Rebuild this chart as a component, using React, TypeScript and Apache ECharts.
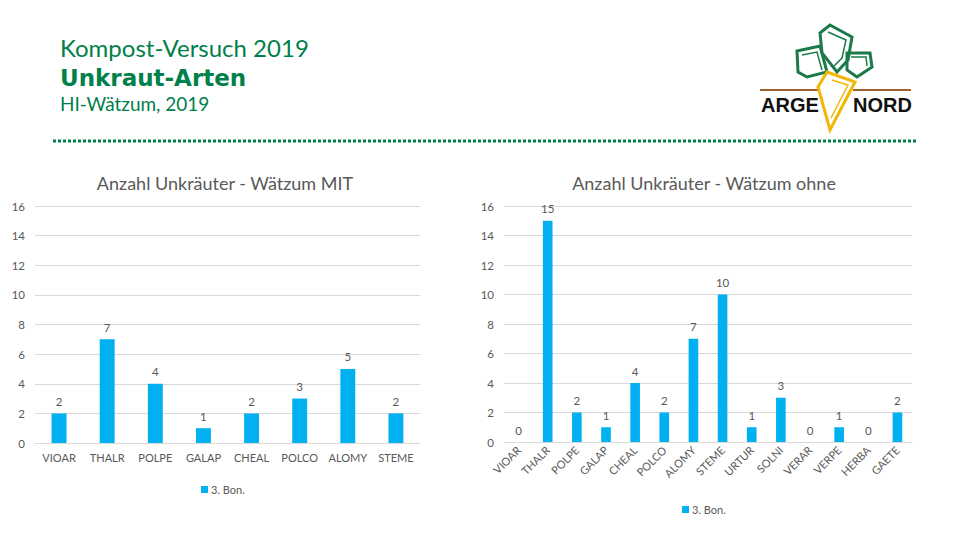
import React, { useEffect, useRef } from "react";
import * as echarts from "echarts";

const mitCategories = ["VIOAR", "THALR", "POLPE", "GALAP", "CHEAL", "POLCO", "ALOMY", "STEME"];
const mitValues = [2, 7, 4, 1, 2, 3, 5, 2];

const ohneCategories = [
  "VIOAR", "THALR", "POLPE", "GALAP", "CHEAL", "POLCO", "ALOMY",
  "STEME", "URTUR", "SOLNI", "VERAR", "VERPE", "HERBA", "GAETE",
];
const ohneValues = [0, 15, 2, 1, 4, 2, 7, 10, 1, 3, 0, 1, 0, 2];

const seriesName = "3. Bon.";
const yTicks = { min: 0, max: 16, interval: 2 };

const GREEN = "#00804A";
const BAR = "#00B0F0";
const GREY = "#595959";
const FONT = "Lato, 'Open Sans', sans-serif";

const leafStyle = { stroke: "#1B7A4A", lineWidth: 3, fill: "none" };

const App: React.FC = () => {
  const chartRef = useRef<HTMLDivElement>(null);

  useEffect(() => {
    if (!chartRef.current) return;
    const chart = echarts.init(chartRef.current, undefined, { renderer: "svg" });

    const xAxisBase = {
      type: "category" as const,
      axisTick: { show: false },
      axisLine: { lineStyle: { color: "#D9D9D9" } },
    };
    const yAxisBase = {
      type: "value" as const,
      ...yTicks,
      axisLine: { show: false },
      axisTick: { show: false },
      axisLabel: { color: GREY, fontSize: 11.5, fontFamily: FONT, margin: 10 },
      splitLine: { lineStyle: { color: "#D9D9D9" } },
    };
    const barLabel = {
      show: true,
      position: "top" as const,
      color: GREY,
      fontSize: 11.5,
      fontFamily: FONT,
      distance: 6,
    };
    const titleStyle = { color: GREY, fontSize: 18, fontWeight: "normal", fontFamily: FONT };

    const option = {
      animation: false,
      backgroundColor: "#fff",
      title: [
        { text: "Anzahl Unkräuter - Wätzum MIT", left: 220, top: 169, textAlign: "center", textStyle: titleStyle },
        { text: "Anzahl Unkräuter - Wätzum ohne", left: 699, top: 169, textAlign: "center", textStyle: titleStyle },
      ],
      legend: [
        {
          data: [seriesName],
          left: 196,
          top: 479,
          icon: "rect",
          itemWidth: 7,
          itemHeight: 7,
          selectedMode: false,
          textStyle: { color: GREY, fontSize: 11, fontFamily: FONT, padding: [0, 0, 0, -2] },
        },
        {
          data: [seriesName],
          left: 677,
          top: 499,
          icon: "rect",
          itemWidth: 7,
          itemHeight: 7,
          selectedMode: false,
          textStyle: { color: GREY, fontSize: 11, fontFamily: FONT, padding: [0, 0, 0, -2] },
        },
      ],
      grid: [
        { left: 35, top: 206, width: 385, height: 237 },
        { left: 504, top: 206, width: 408, height: 236 },
      ],
      xAxis: [
        {
          ...xAxisBase,
          gridIndex: 0,
          data: mitCategories,
          axisLabel: { color: GREY, fontSize: 11, fontFamily: FONT, interval: 0, margin: 9 },
        },
        {
          ...xAxisBase,
          gridIndex: 1,
          data: ohneCategories,
          axisLabel: { color: GREY, fontSize: 11, fontFamily: FONT, interval: 0, rotate: 45, margin: 6 },
        },
      ],
      yAxis: [
        { ...yAxisBase, gridIndex: 0 },
        { ...yAxisBase, gridIndex: 1 },
      ],
      series: [
        {
          name: seriesName,
          type: "bar",
          xAxisIndex: 0,
          yAxisIndex: 0,
          data: mitValues,
          barWidth: "31%",
          itemStyle: { color: BAR },
          label: barLabel,
        },
        {
          name: seriesName,
          type: "bar",
          xAxisIndex: 1,
          yAxisIndex: 1,
          data: ohneValues,
          barWidth: "33%",
          itemStyle: { color: BAR },
          label: barLabel,
        },
      ],
      graphic: [
        {
          type: "text",
          x: 60,
          y: 35,
          style: { text: "Kompost-Versuch 2019", fill: GREEN, fontSize: 24, fontFamily: FONT },
        },
        {
          type: "text",
          x: 60,
          y: 66,
          style: {
            text: "Unkraut-Arten",
            fill: GREEN,
            fontSize: 23,
            fontWeight: "bold",
            fontFamily: "'DejaVu Sans', sans-serif",
          },
        },
        {
          type: "text",
          x: 60,
          y: 94,
          style: { text: "HI-Wätzum, 2019", fill: GREEN, fontSize: 19, fontFamily: FONT },
        },
        {
          type: "line",
          shape: { x1: 53, y1: 141, x2: 916, y2: 141 },
          style: { stroke: GREEN, lineWidth: 3, lineDash: [3, 2] },
        },
        // logo
        {
          type: "line",
          shape: { x1: 760, y1: 90, x2: 819, y2: 90 },
          style: { stroke: "#A0622D", lineWidth: 2 },
        },
        {
          type: "line",
          shape: { x1: 853, y1: 90, x2: 911, y2: 90 },
          style: { stroke: "#A0622D", lineWidth: 2 },
        },
        {
          type: "polygon",
          shape: { points: [[830, 25], [852, 37], [848, 60], [837, 72], [822, 53], [820, 33]] },
          style: leafStyle,
        },
        {
          type: "polyline",
          shape: { points: [[828, 32], [846, 40], [842, 58], [834, 66]] },
          style: { ...leafStyle, lineWidth: 1.5 },
        },
        {
          type: "polygon",
          shape: { points: [[797, 51], [820, 46], [827, 72], [807, 77], [798, 72]] },
          style: leafStyle,
        },
        {
          type: "polyline",
          shape: { points: [[802, 55], [817, 52], [822, 70]] },
          style: { ...leafStyle, lineWidth: 1.5 },
        },
        {
          type: "polygon",
          shape: { points: [[847, 53], [870, 53], [872, 67], [857, 77], [847, 70]] },
          style: leafStyle,
        },
        {
          type: "polyline",
          shape: { points: [[851, 57], [866, 57], [867, 66]] },
          style: { ...leafStyle, lineWidth: 1.5 },
        },
        {
          type: "polygon",
          shape: { points: [[827, 72], [855, 82], [830, 130], [818, 87]] },
          style: { stroke: "#F2B705", lineWidth: 3, fill: "#fff" },
        },
        {
          type: "polyline",
          shape: { points: [[832, 80], [848, 85], [831, 118]] },
          style: { stroke: "#F2B705", lineWidth: 1.5, fill: "none" },
        },
        {
          type: "text",
          x: 761,
          y: 95,
          style: {
            text: "ARGE",
            fill: "#111",
            fontSize: 20,
            fontWeight: "bold",
            fontFamily: "'Liberation Sans', Arial, sans-serif",
          },
        },
        {
          type: "text",
          x: 853,
          y: 95,
          style: {
            text: "NORD",
            fill: "#111",
            fontSize: 20,
            fontWeight: "bold",
            fontFamily: "'Liberation Sans', Arial, sans-serif",
          },
        },
      ],
    };

    chart.setOption(option);
    return () => chart.dispose();
  }, []);

  return (
    <div
      ref={chartRef}
      style={{ position: "fixed", left: 0, top: 0, width: "960px", height: "540px", background: "#fff" }}
    ></div>
  );
};

export default App;
